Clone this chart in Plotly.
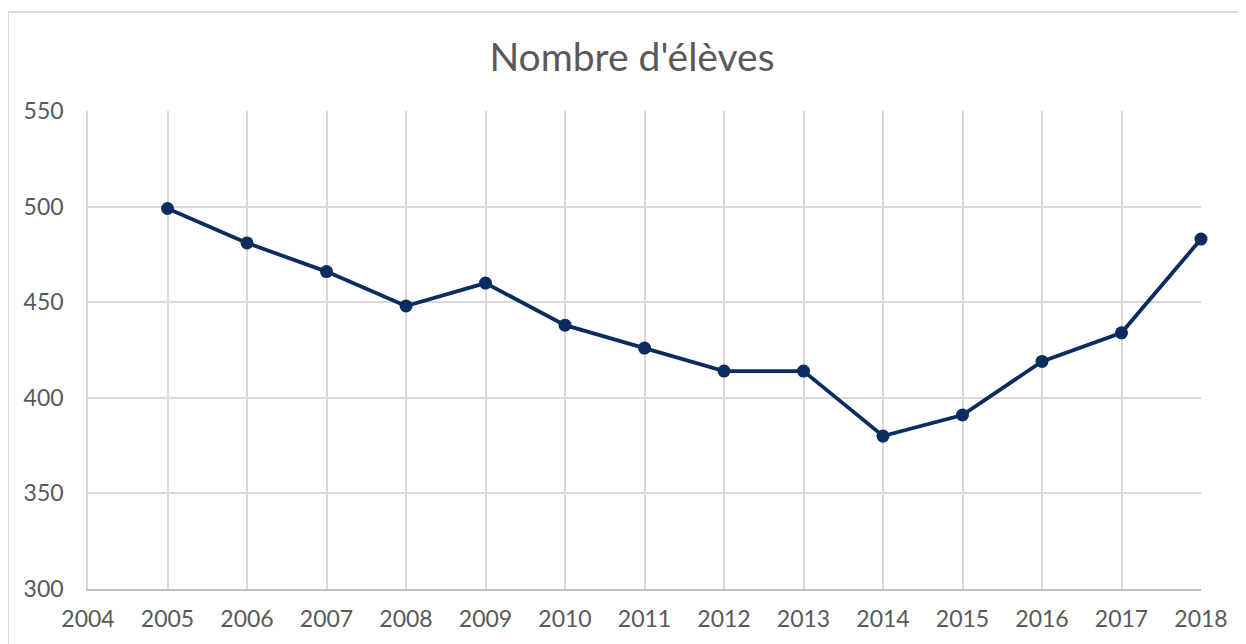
import plotly.graph_objects as go

years = [2005, 2006, 2007, 2008, 2009, 2010, 2011, 2012, 2013, 2014, 2015, 2016, 2017, 2018]
students = [499, 481, 466, 448, 460, 438, 426, 414, 414, 380, 391, 419, 434, 483]
title_text = "Nombre d'élèves"

W, H = 1246, 644
OFF = 8  # page body margin offset
ml, mr, mt, mb = 88 - OFF, W - (1201 - OFF), 111 - OFF, H - (589 - OFF)
pw, ph = W - ml - mr, H - mt - mb

def px_x(p):
    return (p - OFF - ml) / pw

def px_y(p):
    return (H - mb - (p - OFF)) / ph

font_family = "Lato, 'Open Sans', sans-serif"
grid = "#d9d9d9"
txt = "#595959"
navy = "#0b2c5f"

fig = go.Figure()
fig.add_trace(go.Scatter(
    x=years, y=students, mode="lines+markers",
    line=dict(color=navy, width=3.8),
    marker=dict(color=navy, size=13),
    showlegend=False, cliponaxis=False,
))

fig.update_layout(
    width=W, height=H,
    margin=dict(l=ml, r=mr, t=mt, b=mb),
    paper_bgcolor="white", plot_bgcolor="white",
    title=dict(text=title_text, x=(632 - OFF) / W, xanchor="center", y=1 - (57 - OFF) / H, yanchor="middle",
               font=dict(family=font_family, size=39, color=txt)),
    font=dict(family=font_family, color=txt),
    xaxis=dict(range=[2004, 2018], tickmode="linear", tick0=2004, dtick=1,
               showgrid=True, gridcolor=grid, gridwidth=1.5,
               showline=True, linecolor="#bfbfbf", linewidth=1.5,
               zeroline=False, tickfont=dict(size=23, color=txt),
               ticks="", ticklabelstandoff=9),
    yaxis=dict(range=[300, 550], tickmode="linear", tick0=300, dtick=50,
               showgrid=True, gridcolor=grid, gridwidth=1.5,
               showline=True, linecolor=grid, linewidth=1.5,
               zeroline=False, tickfont=dict(size=23, color=txt),
               ticks="", ticklabelstandoff=18),
    shapes=[
        dict(type="line", xref="paper", yref="paper",
             x0=px_x(8), y0=px_y(12), x1=px_x(W + 20), y1=px_y(12),
             line=dict(color="#d9d9d9", width=2)),
        dict(type="line", xref="paper", yref="paper",
             x0=px_x(8), y0=px_y(12), x1=px_x(8), y1=px_y(H + 20),
             line=dict(color="#d9d9d9", width=2)),
    ],
)

fig.write_html("out.html")
